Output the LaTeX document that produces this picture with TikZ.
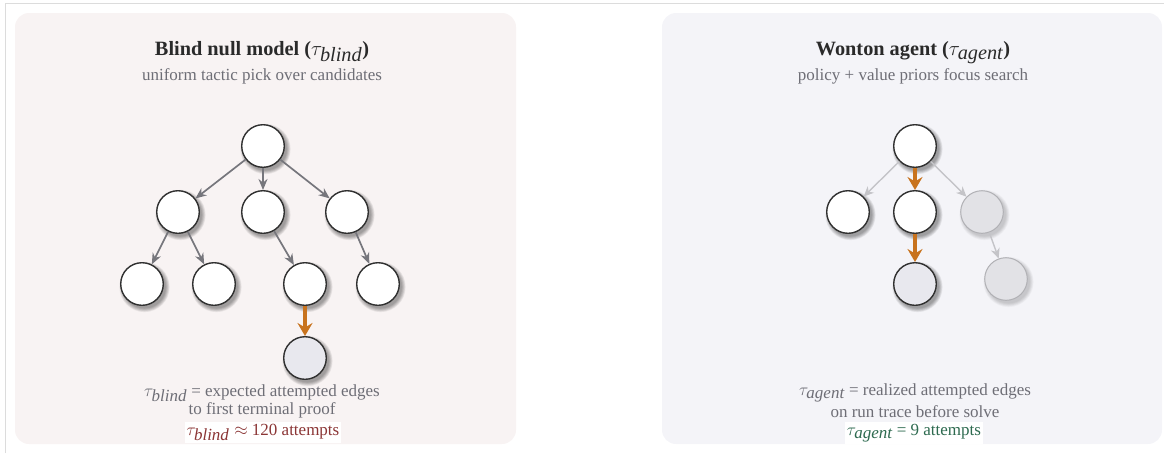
\documentclass[tikz,border=0pt]{standalone}
\usepackage{fontspec}
\setmainfont{Liberation Serif}
\usetikzlibrary{arrows.meta}

\definecolor{panelL}{HTML}{F8F3F3}
\definecolor{panelR}{HTML}{F4F4F8}
\definecolor{frameln}{HTML}{DCDCDC}
\definecolor{ink}{HTML}{2A2A2A}
\definecolor{subink}{HTML}{6E6E76}
\definecolor{nodeln}{HTML}{303030}
\definecolor{edgegray}{HTML}{76767C}
\definecolor{fadeedge}{HTML}{C4C4C8}
\definecolor{fadeln}{HTML}{B0B0B4}
\definecolor{fadefill}{HTML}{E2E2E6}
\definecolor{termfill}{HTML}{E8E8EE}
\definecolor{trace}{HTML}{C8731E}
\definecolor{redval}{HTML}{8B3535}
\definecolor{greenval}{HTML}{2D6A4F}

\pgfdeclarelayer{bg}
\pgfdeclarelayer{shade}
\pgfsetlayers{bg,shade,main}

% subscripted tau with an upright-weight italic label
\newcommand{\tsub}[1]{\tau_{\textit{\mdseries #1}}}

% soft drop shadow behind a circular node: stacked translucent discs
\newcommand{\softshadow}[2]{%
  \begin{pgfonlayer}{shade}
    \foreach \k in {0,...,7}
      \fill[black, opacity=#2]
        ([xshift=2.5pt, yshift=-3pt]#1.center) circle ({21.3pt + \k*0.55pt});
  \end{pgfonlayer}}

\tikzset{
  goal/.style={circle, minimum size=42.6pt, inner sep=0pt, draw=nodeln,
    line width=1.4pt, fill=white},
  terminal/.style={goal, fill=termfill},
  faded/.style={goal, draw=fadeln, line width=1pt, fill=fadefill},
  edge/.style={draw=edgegray, line width=1.7pt,
    -{Stealth[length=11pt, width=9pt, inset=3.5pt]}},
  fadeedge/.style={draw=fadeedge, line width=1.4pt,
    -{Stealth[length=10pt, width=9pt, inset=3pt]}},
  traceedge/.style={draw=trace, line width=3.4pt,
    -{Stealth[length=13pt, width=15pt, inset=4.5pt]}},
  title/.style={anchor=base, text=ink, font=\fontsize{20.3}{24}\selectfont\bfseries},
  subtitle/.style={anchor=base, text=subink, font=\fontsize{17}{20}\selectfont},
  note/.style={anchor=base, text=subink, font=\fontsize{17}{20}\selectfont},
  valuebox/.style={anchor=base, fill=white, inner sep=2pt,
    font=\fontsize{17}{20}\selectfont},
}

\begin{document}
\begin{tikzpicture}[x=1pt, y=-1pt]
  \useasboundingbox (0,0) rectangle (1164,453);

  \begin{pgfonlayer}{bg}
    % page frame
    \draw[frameln, line width=0.8pt] (5,453) -- (5,3) -- (1164,3);
    % panels
    \fill[panelL, rounded corners=14pt] (15,13) rectangle (516,444);
    \fill[panelR, rounded corners=14pt] (662,13) rectangle (1162,444);
  \end{pgfonlayer}

  % ---------- blind null model ----------
  \node[title] (tl) at (262,55) {Blind null model ($\tsub{blind}$)};
  \node[subtitle] (sl) at (262,80) {uniform tactic pick over candidates};

  \node[goal] (b0) at (263,146) {};
  \node[goal] (b1) at (178,212) {};
  \node[goal] (b2) at (263,212) {};
  \node[goal] (b3) at (347,212) {};
  \node[goal] (b4) at (142,284) {};
  \node[goal] (b5) at (214,284) {};
  \node[goal] (b6) at (305,284) {};
  \node[goal] (b7) at (378,284) {};
  \node[terminal] (b8) at (305,358) {};

  \foreach \n in {b0,b1,b2,b3,b4,b5,b6,b7,b8} { \softshadow{\n}{0.05} }

  \draw[edge] (b0) -- (b1);
  \draw[edge] (b0) -- (b2);
  \draw[edge] (b0) -- (b3);
  \draw[edge] (b1) -- (b4);
  \draw[edge] (b1) -- (b5);
  \draw[edge] (b2) -- (b6);
  \draw[edge] (b3) -- (b7);
  \draw[traceedge] (b6) -- (b8);

  \node[note] (nl1) at (262,396) {$\tsub{blind}$ = expected attempted edges};
  \node[note] (nl2) at (262,414.5) {to first terminal proof};
  \node[valuebox, text=redval] (vl) at (263,435) {$\tsub{blind}\approx$ 120 attempts};

  % ---------- wonton agent ----------
  \node[title] (tr) at (913,55) {Wonton agent ($\tsub{agent}$)};
  \node[subtitle] (sr) at (913,80) {policy + value priors focus search};

  \node[goal] (a0) at (915,146) {};
  \node[goal] (a1) at (848,212) {};
  \node[goal] (a2) at (915,212) {};
  \node[faded] (a3) at (982,212) {};
  \node[terminal] (a4) at (915,284) {};
  \node[faded] (a5) at (1006,279) {};

  \foreach \n in {a0,a1,a2,a4} { \softshadow{\n}{0.05} }
  \foreach \n in {a3,a5} { \softshadow{\n}{0.025} }

  \draw[fadeedge] (a0) -- (a1);
  \draw[fadeedge] (a0) -- (a3);
  \draw[fadeedge] (a3) -- (a5);
  \draw[traceedge] (a0) -- (a2);
  \draw[traceedge] (a2) -- (a4);

  \node[note] (nr1) at (915,395) {$\tsub{agent}$ = realized attempted edges};
  \node[note] (nr2) at (915,417) {on run trace before solve};
  \node[valuebox, text=greenval] (vr) at (914,435) {$\tsub{agent}$ = 9 attempts};
\end{tikzpicture}
\end{document}
